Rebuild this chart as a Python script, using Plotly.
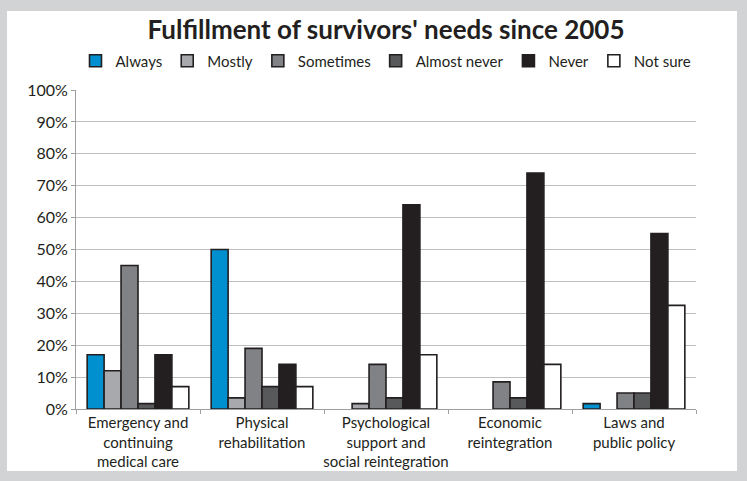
import plotly.graph_objects as go

# Categories of need (x axis)
categories = [
    "Emergency and<br>continuing<br>medical care",
    "Physical<br>rehabilitation",
    "Psychological<br>support and<br>social reintegration",
    "Economic<br>reintegration",
    "Laws and<br>public policy",
]

# Share of respondents per answer, in percent
always = [17, 50, 0, 0, 1.7]
mostly = [12, 3.5, 1.7, 0, 0]
sometimes = [45, 19, 14, 8.5, 5]
almost_never = [1.7, 7, 3.5, 3.5, 5]
never = [17, 14, 64, 74, 55]
not_sure = [7, 7, 17, 14, 32.5]

series = [
    ("Always", always, "#0090cf"),
    ("Mostly", mostly, "#a7a9ac"),
    ("Sometimes", sometimes, "#808285"),
    ("Almost never", almost_never, "#58595b"),
    ("Never", never, "#231f20"),
    ("Not sure", not_sure, "#ffffff"),
]

y_ticks = list(range(0, 101, 10))

FONT = "Lato"
INK = "#231f20"

fig = go.Figure()
for name, vals, color in series:
    fig.add_trace(go.Bar(
        name=name,
        x=categories,
        y=[v if v > 0 else None for v in vals],
        marker=dict(color=color, line=dict(color=INK, width=1.6)),
    ))

W, H = 747, 481
L, R, T, B = 76, 51, 90, 72
pw, ph = W - L - R, H - T - B

def px_x(x):
    return (x - L) / pw

def px_y(y):
    return (H - B - y) / ph

fig.update_layout(
    width=W, height=H,
    margin=dict(l=L, r=R, t=T, b=B, autoexpand=False),
    paper_bgcolor="#d1d3d4",
    plot_bgcolor="rgba(0,0,0,0)",
    barmode="group",
    bargap=0.18,
    bargroupgap=0,
    font=dict(family=FONT, size=15, color=INK),
    title=dict(
        text="<b>Fulfillment of survivors' needs since 2005</b>",
        x=0.5, xanchor="center", xref="paper",
        y=1 - 30 / H, yanchor="middle",
        font=dict(family=FONT, size=26, color=INK),
    ),
    legend=dict(
        orientation="h",
        x=0.5, xanchor="center",
        y=px_y(61), yanchor="middle",
        font=dict(family=FONT, size=15, color=INK),
        bgcolor="rgba(0,0,0,0)",
        itemwidth=30,
        tracegroupgap=0,
    ),
    shapes=[dict(
        type="rect", xref="paper", yref="paper", layer="below",
        x0=px_x(7), x1=px_x(737), y0=px_y(471), y1=px_y(11),
        fillcolor="#ffffff", line=dict(width=0),
    )],
    xaxis=dict(
        showline=True, linecolor="#9d9fa2", linewidth=1,
        ticks="outside", tickson="boundaries", ticklen=4,
        tickcolor="#9d9fa2", showgrid=False,
        tickangle=0, automargin=False,
        tickfont=dict(family=FONT, size=15, color=INK),
    ),
    yaxis=dict(
        range=[0, 100], tickvals=y_ticks,
        ticktext=[f"{v}%" for v in y_ticks],
        showline=True, linecolor="#9d9fa2", linewidth=1,
        ticks="outside", ticklen=4, tickcolor="#9d9fa2",
        gridcolor="#bcbec0", gridwidth=1, zeroline=False,
        automargin=False,
        tickfont=dict(family=FONT, size=16, color=INK),
    ),
)

fig.write_html("out.html")
